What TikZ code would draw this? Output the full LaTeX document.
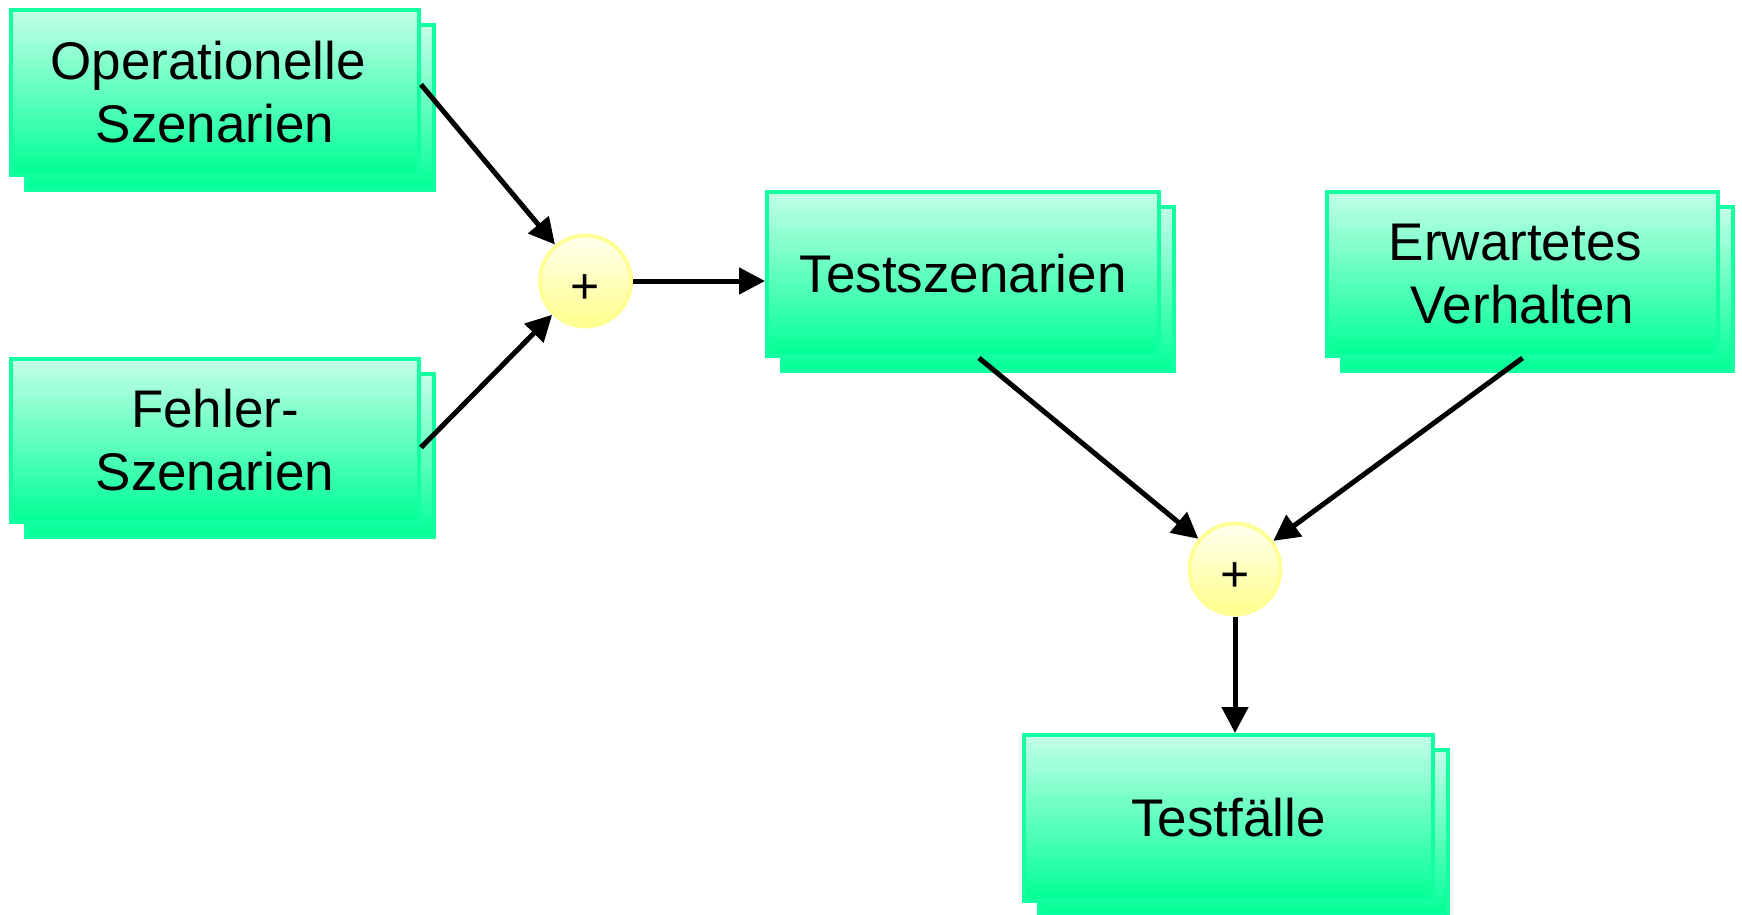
\documentclass[tikz,border=0pt]{standalone}
\usepackage{fontspec}
\setmainfont{Liberation Sans}
\usetikzlibrary{arrows.meta,backgrounds,calc}
\definecolor{boxedge}{RGB}{20,255,160}
\definecolor{boxtop}{RGB}{195,255,232}
\definecolor{boxbot}{RGB}{0,255,150}
\definecolor{sumedge}{RGB}{255,255,150}
\definecolor{sumtop}{RGB}{255,255,238}
\definecolor{sumbot}{RGB}{255,255,140}
\tikzset{
  boxlook/.style={draw=boxedge, line width=4pt, top color=boxtop, bottom color=boxbot},
  stepbox/.style={boxlook, rectangle, inner sep=0pt, align=center,
    font=\fontsize{53}{63}\selectfont},
  sumnode/.style={circle, draw=sumedge, line width=4pt, top color=sumtop,
    bottom color=sumbot, minimum size=91pt, inner sep=0pt,
    text height=45pt, text depth=0pt,
    font=\fontsize{50}{50}\selectfont},
  flow/.style={line width=5pt, -{Triangle[length=26pt,width=26pt]}},
}
\begin{document}
\begin{tikzpicture}[x=1pt, y=-1pt]
\useasboundingbox (0,0) rectangle (1742,915);

% front boxes
\node[stepbox, minimum width=408pt, minimum height=165pt] (ops) at (215,92.5) {Operationelle\hspace*{14pt}\\Szenarien};
\node[stepbox, minimum width=408pt, minimum height=163pt] (fehl) at (215,440.5) {Fehler-\\Szenarien};
\node[stepbox, minimum width=392pt, minimum height=164pt] (test) at (963,274) {Testszenarien};
\node[stepbox, minimum width=391pt, minimum height=164pt] (erw) at (1522.5,274) {Erwartetes\hspace*{14pt}\\Verhalten};
\node[stepbox, minimum width=409pt, minimum height=166pt] (faelle) at (1228.5,818) {Testfälle};

% stacked copies behind each box
\begin{pgfonlayer}{background}
\foreach \n in {ops,fehl,test,erw,faelle}
  \path[boxlook] ([shift={(17,13)}]\n.south west) rectangle ([shift={(13,17)}]\n.north east);
\end{pgfonlayer}

% summing points
\node[sumnode] (c1) at (585.5,281) {+};
\node[sumnode] (c2) at (1235,569) {+};

% connectors
\draw[flow] ([yshift=8]ops.east) -- (c1);
\draw[flow] ([yshift=-7]fehl.east) -- (c1);
\draw[flow] (c1) -- (c1 -| test.west);
\draw[flow] ([xshift=16]test.south) -- (c2);
\draw[flow] (erw.south) -- (c2);
\draw[flow] (c2) -- (c2 |- faelle.north);
\end{tikzpicture}
\end{document}
